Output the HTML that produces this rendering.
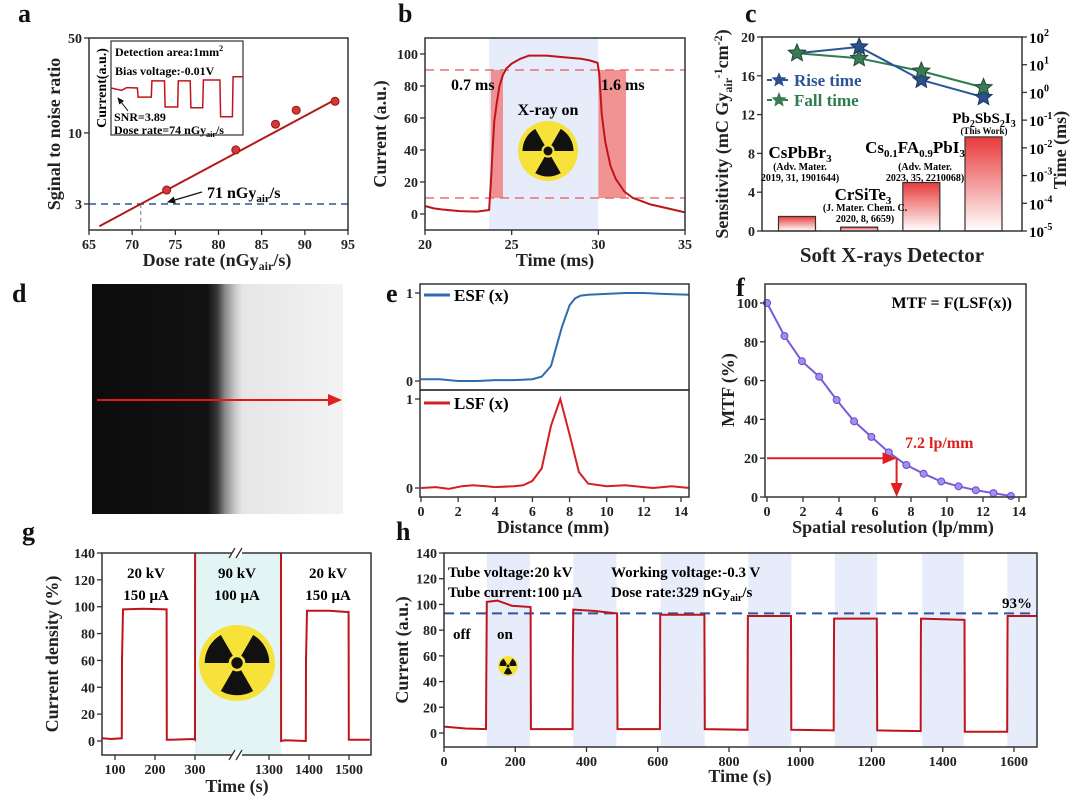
<!DOCTYPE html>
<html><head><meta charset="utf-8">
<style>
body{margin:0;background:#fff;}
svg{display:block;font-family:"Liberation Serif",serif;font-weight:bold;}
.tk{font-size:14px;fill:#222;}
.ttl{font-size:18px;fill:#222;}
.lt{font-size:26px;fill:#111;}
.fr{fill:none;stroke:#333;stroke-width:1.5;}
</style></head>
<body>
<svg id="fig" width="1080" height="808" viewBox="0 0 1080 808" xmlns="http://www.w3.org/2000/svg">
<defs>
<linearGradient id="barg" x1="0" y1="0" x2="0" y2="1"><stop offset="0" stop-color="#e83a3a"/><stop offset="1" stop-color="#fff"/></linearGradient>
<linearGradient id="edge" x1="0" y1="0" x2="1" y2="0">
<stop offset="0" stop-color="#0c0c0c"/><stop offset="0.46" stop-color="#121212"/><stop offset="0.5" stop-color="#3a3a3a"/><stop offset="0.53" stop-color="#8a8a8a"/><stop offset="0.57" stop-color="#c8c8c8"/><stop offset="0.6" stop-color="#e6e6e6"/><stop offset="1" stop-color="#f3f3f3"/></linearGradient>
<marker id="arr" markerWidth="8" markerHeight="8" refX="6" refY="3" orient="auto"><path d="M0,0 L7,3 L0,6 z" fill="#111"/></marker>
<marker id="arrR" markerWidth="8" markerHeight="8" refX="6" refY="3" orient="auto"><path d="M0,0 L7,3 L0,6 z" fill="#e02020"/></marker>
</defs>

<!-- panel d -->
<g>
<rect x="92" y="284" width="251" height="230" fill="url(#edge)"/>
<line x1="97" y1="400" x2="340" y2="400" stroke="#e01818" stroke-width="2" marker-end="url(#arrR)"/>
</g>

<g id="marks"></g>

<!-- panel letters -->
<text class="lt" x="18" y="22">a</text>
<text class="lt" x="398" y="22">b</text>
<text class="lt" x="745" y="22">c</text>
<text class="lt" x="12" y="302">d</text>
<text class="lt" x="386" y="302">e</text>
<text class="lt" x="736" y="296">f</text>
<text class="lt" x="22" y="540">g</text>
<text class="lt" x="396" y="540">h</text>

<!-- panel a static -->
<g>
<text x="115" y="56" font-size="12">Detection area:1mm<tspan font-size="8" dy="-5">2</tspan></text>
<text x="115" y="75" font-size="12">Bias voltage:-0.01V</text>
<text x="114" y="121" font-size="12">SNR=3.89</text>
<text x="114" y="134" font-size="12">Dose rate=74 nGy<tspan font-size="8" dy="3">air</tspan><tspan dy="-3">/s</tspan></text>
<text transform="translate(106,88) rotate(-90)" text-anchor="middle" font-size="14">Current(a.u.)</text>
<line x1="128" y1="111" x2="118" y2="98" stroke="#111" stroke-width="1" marker-end="url(#arr)"/>
<text x="207" y="198" font-size="16">71 nGy<tspan font-size="11" dy="4">air</tspan><tspan dy="-4">/s</tspan></text>
<line x1="202" y1="192" x2="168" y2="202" stroke="#111" stroke-width="1.2" marker-end="url(#arr)"/>
<text x="217" y="266" text-anchor="middle" class="ttl">Dose rate (nGy<tspan font-size="12" dy="4">air</tspan><tspan dy="-4">/s)</tspan></text>
<text transform="translate(60,134) rotate(-90)" text-anchor="middle" class="ttl">Sginal to noise ratio</text>
</g>

<!-- panel b static -->
<g>
<text x="555" y="266" text-anchor="middle" class="ttl">Time (ms)</text>
<text transform="translate(386,134) rotate(-90)" text-anchor="middle" class="ttl">Current (a.u.)</text>
</g>

<!-- panel c static -->
<g>
<text x="892" y="262" text-anchor="middle" font-size="21" fill="#222">Soft X-rays Detector</text>
<text transform="translate(728,134) rotate(-90)" text-anchor="middle" class="ttl" fill="#b3191e">Sensitivity (mC Gy<tspan font-size="12" dy="4">air</tspan><tspan font-size="12" dy="-10">-1</tspan><tspan dy="6">cm</tspan><tspan font-size="12" dy="-6">-2</tspan><tspan dy="6">)</tspan></text>
<text transform="translate(1066,150) rotate(-90)" text-anchor="middle" class="ttl">Time (ms)</text>
<text x="800" y="158" text-anchor="middle" font-size="17">CsPbBr<tspan font-size="11" dy="4">3</tspan></text>
<text x="800" y="170" text-anchor="middle" font-size="10">(Adv. Mater.</text>
<text x="800" y="181" text-anchor="middle" font-size="10">2019, 31, 1901644)</text>
<text x="863" y="200" text-anchor="middle" font-size="17">CrSiTe<tspan font-size="11" dy="4">3</tspan></text>
<text x="865" y="211" text-anchor="middle" font-size="10">(J. Mater. Chem. C.</text>
<text x="865" y="222" text-anchor="middle" font-size="10">2020, 8, 6659)</text>
<text x="915" y="153" text-anchor="middle" font-size="17">Cs<tspan font-size="11" dy="4">0.1</tspan><tspan dy="-4">FA</tspan><tspan font-size="11" dy="4">0.9</tspan><tspan dy="-4">PbI</tspan><tspan font-size="11" dy="4">3</tspan></text>
<text x="925" y="170" text-anchor="middle" font-size="10">(Adv. Mater.</text>
<text x="925" y="181" text-anchor="middle" font-size="10">2023, 35, 2210068)</text>
<text x="984" y="123" text-anchor="middle" font-size="15">Pb<tspan font-size="10" dy="4">2</tspan><tspan dy="-4">SbS</tspan><tspan font-size="10" dy="4">2</tspan><tspan dy="-4">I</tspan><tspan font-size="10" dy="4">3</tspan></text>
<text x="984" y="134" text-anchor="middle" font-size="9">(This Work)</text>
<text x="794" y="86" font-size="17" fill="#2b5597">Rise time</text>
<text x="794" y="106" font-size="17" fill="#2e7d4f">Fall time</text>
</g>

<!-- panel e static -->
<g>
<text x="553" y="533" text-anchor="middle" class="ttl">Distance (mm)</text>
<line x1="424" y1="295" x2="450" y2="295" stroke="#2c6db0" stroke-width="3"/>
<text x="454" y="301" font-size="17">ESF (x)</text>
<line x1="424" y1="403" x2="450" y2="403" stroke="#d42020" stroke-width="3"/>
<text x="454" y="409" font-size="17">LSF (x)</text>
</g>

<!-- panel f static -->
<g>
<text x="893" y="533" text-anchor="middle" class="ttl">Spatial resolution (lp/mm)</text>
<text transform="translate(734,390) rotate(-90)" text-anchor="middle" class="ttl">MTF (%)</text>
<text x="1012" y="308" text-anchor="end" font-size="16">MTF = F(LSF(x))</text>
<text x="905" y="448" font-size="16" fill="#e02020">7.2 lp/mm</text>
</g>

<!-- panel g static -->
<g>
<text x="237" y="792" text-anchor="middle" class="ttl">Time (s)</text>
<text transform="translate(58,654) rotate(-90)" text-anchor="middle" class="ttl">Current density (%)</text>
<text x="146" y="578" text-anchor="middle" font-size="15">20 kV</text>
<text x="146" y="600" text-anchor="middle" font-size="15">150 μA</text>
<text x="237" y="578" text-anchor="middle" font-size="15">90 kV</text>
<text x="237" y="600" text-anchor="middle" font-size="15">100 μA</text>
<text x="328" y="578" text-anchor="middle" font-size="15">20 kV</text>
<text x="328" y="600" text-anchor="middle" font-size="15">150 μA</text>
</g>

<!-- panel h static -->
<g>
<text x="740" y="782" text-anchor="middle" class="ttl">Time (s)</text>
<text transform="translate(408,650) rotate(-90)" text-anchor="middle" class="ttl">Current (a.u.)</text>
<text x="448" y="577" font-size="15">Tube voltage:20 kV</text>
<text x="448" y="597" font-size="15">Tube current:100 μA</text>
<text x="611" y="577" font-size="15">Working voltage:-0.3 V</text>
<text x="611" y="597" font-size="15">Dose rate:329 nGy<tspan font-size="10" dy="4">air</tspan><tspan dy="-4">/s</tspan></text>
<text x="453" y="639" font-size="15">off</text>
<text x="497" y="639" font-size="15">on</text>
<text x="1032" y="608" text-anchor="end" font-size="15">93%</text>
</g>
</svg>

<script>
// ---------- data ----------
// panel a
const aTickX=[65,70,75,80,85,90,95];
const aTickY=[3,10,50];
const aDose=[74,82,86.6,89,93.5];
const aSNR=[3.8,7.5,11.6,14.7,17.1];
const aFitX=[66.2,93.5];
const aFitLog=[0.477,0.0341];
const aLOD=[71,3];
const insetT=[0,0.8,1.2,2.0,2.05,3.05,3.1,4.05,4.1,5.05,5.1,6.0,6.05,6.95,7.0,8.25,8.3,9.2,9.25,10];
const insetI=[7.1,6.6,7.2,7.1,5.1,5.1,8.7,8.7,2.9,2.9,8.7,8.7,2.7,2.7,8.9,8.9,0.7,0.7,9.6,9.6];
// panel b
const bTickX=[20,25,30,35];
const bTickY=[0,20,40,60,80,100];
const bT=[20,20.5,21,22,23,23.7,23.8,23.9,24,24.15,24.3,24.5,24.7,25,25.5,26,27,28,29,29.5,29.95,30.05,30.2,30.4,30.7,31,31.5,32,32.5,33,34,35];
const bI=[5,3.5,2.8,1.8,1.5,2.5,20,40,58,70,80,87,91,94,97,99,99,98,97,96,94.5,88,62,45,30,22,14,10,8,6,3.5,1];
const bOn=[23.7,30.0];
const bRise=[23.8,24.5];
const bFall=[30.0,31.6];
const bLevels=[10,90];
// panel c
const cCats=['CsPbBr3','CrSiTe3','Cs0.1FA0.9PbI3','Pb2SbS2I3'];
const cSens=[1.5,0.4,5.0,9.7];
const cRise=[26,44,2.8,0.67];
const cFall=[26,17,5.9,1.5];
const cTickL=[0,4,8,12,16,20];
const cTickR=[-5,-4,-3,-2,-1,0,1,2];
// panel e
const eTickX=[0,2,4,6,8,10,12,14];
const esfX=[0,1,2,3,4,5,6,6.5,7,7.3,7.6,8,8.3,8.6,9,10,11,12,13,14.45];
const esfY=[0.02,0.02,0,0,0.01,0.01,0.02,0.05,0.17,0.4,0.62,0.86,0.94,0.97,0.98,0.99,1.0,1.0,0.99,0.98];
const lsfX=[0,0.8,1.5,2.2,2.8,3.5,4,5,5.5,6,6.5,7,7.5,8,8.5,9,10,11,12.5,13.5,14.45];
const lsfY=[0,0.01,-0.01,0.02,0.03,0.02,0.01,0.02,0.03,0.08,0.22,0.7,1.0,0.6,0.18,0.05,0.02,0.03,0,0.02,0];
// panel f
const fTickX=[0,2,4,6,8,10,12,14];
const fTickY=[0,20,40,60,80,100];
const fFreq=[0,0.97,1.94,2.9,3.87,4.84,5.8,6.77,7.74,8.7,9.68,10.64,11.6,12.58,13.55];
const fMTF=[100,83,70,62,50,39,31,23,16.5,12,8,5.5,3.5,2,0.5];
const fRes=[7.2,20];
// panel g
const gTickX=[100,200,300,1300,1400,1500];
const gTickY=[0,20,40,60,80,100,120,140];
const gT1=[68,90,117,117.5,120,170,229,229.5,240,298,300,300.2];
const gI1=[2,1.5,2,60,98,98.5,98,1,1,1.5,1,140];
const gT2=[1330,1330.2,1340,1392,1392.5,1395,1450,1499,1499.5,1520,1552];
const gI2=[140,0,0.5,0,60,97,97,96,1,1,1];
const gBand=[300,1330];
// panel h
const hTickX=[0,200,400,600,800,1000,1200,1400,1600];
const hTickY=[0,20,40,60,80,100,120,140];
const hT=[0,60,118,118.5,120,150,190,243,244,361,361.5,363,420,486,487,606,606.5,607,731,732,852,852.5,853,974,975,1094,1094.5,1095,1215,1216,1338,1338.5,1339,1461,1462,1581,1581.5,1582,1665];
const hI=[5,3.5,3,30,102,103,99,98,3,3,60,96,95,93,3,3,60,92,92,3,2.5,60,91,91,2.5,2,60,89,89,2,1.5,60,89,88,1,1,60,91,91];
const hOnStart=[120,363,608,854,1097,1342,1581];
const hOnEnd=[241,484,732,975,1216,1459,1665];
const hRetention=[93];

// ---------- helpers ----------
const NS='http://www.w3.org/2000/svg';
const svg=document.getElementById('marks');
function mk(tag,attrs,parent){const e=document.createElementNS(NS,tag);for(const k in attrs)e.setAttribute(k,attrs[k]);(parent||svg).appendChild(e);return e;}
function lin(d0,d1,r0,r1){return v=>r0+(v-d0)*(r1-r0)/(d1-d0);}
function logS(d0,d1,r0,r1){return v=>r0+(Math.log10(v)-Math.log10(d0))*(r1-r0)/(Math.log10(d1)-Math.log10(d0));}
function frame(x,y,w,h,name){const r=mk('rect',{x:x,y:y,width:w,height:h,class:'fr'});

}
function xTicks(vals,sc,y0,labels,name,cls){vals.forEach((v,i)=>{const l=mk('line',{x1:sc(v),x2:sc(v),y1:y0,y2:y0+5,stroke:'#333','stroke-width':1.3});


const t=mk('text',{x:sc(v),y:y0+19,'text-anchor':'middle',class:cls||'tk'});t.textContent=labels[i];

});}
function yTicks(vals,sc,x0,labels,name,color){vals.forEach((v,i)=>{const l=mk('line',{x1:x0-5,x2:x0,y1:sc(v),y2:sc(v),stroke:'#333','stroke-width':1.3});


const t=mk('text',{x:x0-7,y:sc(v)+5,'text-anchor':'end',class:'tk'});t.textContent=labels[i];if(color)t.setAttribute('fill',color);

});}
function pts(xs,ys,sx,sy){return xs.map((x,i)=>sx(x).toFixed(1)+','+sy(ys[i]).toFixed(1)).join(' ');}
function radiation(cx,cy,r,name){const g=mk('g',{});


mk('circle',{cx:cx,cy:cy,r:r,fill:'#f7e23a'},g);
const ri=r*0.22,ro=r*0.85;
for(let k=0;k<3;k++){
const base=(-30+k*120)*Math.PI/180; const s=base-Math.PI/6, e=base+Math.PI/6;
mk('path',{d:`M${cx+ri*Math.cos(s)},${cy+ri*Math.sin(s)} L${cx+ro*Math.cos(s)},${cy+ro*Math.sin(s)} A${ro},${ro} 0 0 1 ${cx+ro*Math.cos(e)},${cy+ro*Math.sin(e)} L${cx+ri*Math.cos(e)},${cy+ri*Math.sin(e)} A${ri},${ri} 0 0 0 ${cx+ri*Math.cos(s)},${cy+ri*Math.sin(s)} Z`,fill:'#111'},g);}
mk('circle',{cx:cx,cy:cy,r:r*0.15,fill:'#111'},g);}
function star(cx,cy,r){let d='';for(let i=0;i<10;i++){const a=-Math.PI/2+i*Math.PI/5,rr=i%2?r*0.45:r;d+=(i?'L':'M')+(cx+rr*Math.cos(a)).toFixed(1)+','+(cy+rr*Math.sin(a)).toFixed(1);}return d+'Z';}

// ---------- panel a ----------
(function(){
const sx=lin(65,95,89,348), sy=logS(1.93,50,230,38);
const th=mk('line',{x1:89,x2:348,y1:sy(aLOD[1]),y2:sy(aLOD[1]),stroke:'#2f5597','stroke-width':1.5,'stroke-dasharray':'7,5'});


const dl=mk('line',{x1:sx(aLOD[0]),x2:sx(aLOD[0]),y1:sy(aLOD[1]),y2:230,stroke:'#777','stroke-width':1,'stroke-dasharray':'4,3'});


const fy=x=>Math.pow(10,aFitLog[0]+aFitLog[1]*(x-aLOD[0]));
const fit=mk('line',{x1:sx(aFitX[0]),y1:sy(fy(aFitX[0])),x2:sx(aFitX[1]),y2:sy(fy(aFitX[1])),stroke:'#b01a1a','stroke-width':2});


aDose.forEach((d,i)=>{const c=mk('circle',{cx:sx(d),cy:sy(aSNR[i]),r:4,fill:'#d23a3a',stroke:'#9a1010'});

});
frame(89,38,259,192,'a-plot-frame');
xTicks(aTickX,sx,230,aTickX.map(String),'a-x');
yTicks(aTickY,sy,89,aTickY.map(String),'a-y');
const box=mk('rect',{x:111,y:41,width:132,height:94,fill:'#fff',stroke:'#333','stroke-width':1.2});


const ix=lin(0,10,111,243), iy=lin(0,10,120,75);
const tr=mk('polyline',{points:pts(insetT,insetI,ix,iy),fill:'none',stroke:'#c0141c','stroke-width':1.5});


})();

// ---------- panel b ----------
(function(){
const sx=lin(20,35,425,685), sy=lin(0,100,214,54);
const on=mk('rect',{x:sx(bOn[0]),y:38,width:sx(bOn[1])-sx(bOn[0]),height:192,fill:'#e6ecf9'});


[bRise,bFall].forEach((r,i)=>{const e=mk('rect',{x:sx(r[0]),y:sy(bLevels[1]),width:sx(r[1])-sx(r[0]),height:sy(bLevels[0])-sy(bLevels[1]),fill:'#f08080',opacity:0.85});

});
bLevels.forEach(v=>{const l=mk('line',{x1:425,x2:685,y1:sy(v),y2:sy(v),stroke:'#e87070','stroke-width':1.5,'stroke-dasharray':'9,6'});

});
const tr=mk('polyline',{points:pts(bT,bI,sx,sy),fill:'none',stroke:'#c0141c','stroke-width':2});


frame(425,38,260,192,'b-plot-frame');
xTicks(bTickX,sx,230,bTickX.map(String),'b-x');
yTicks(bTickY,sy,425,bTickY.map(String),'b-y');
const t1=mk('text',{x:451,y:90,'font-size':16});t1.textContent='0.7 ms';


const t2=mk('text',{x:601,y:90,'font-size':16});t2.textContent='1.6 ms';


const t3=mk('text',{x:548,y:115,'font-size':16,'text-anchor':'middle'});t3.textContent='X-ray on';


radiation(548,151,30,'b-radiation-icon');
})();

// ---------- panel c ----------
(function(){
const sx=lin(0,3,797,983.5), sy=lin(0,20,231,37), st=v=>231-(Math.log10(v)+5)*(194/7);
cSens.forEach((v,i)=>{const b=mk('rect',{x:sx(i)-18.5,y:sy(v),width:37,height:231-sy(v),fill:'url(#barg)',stroke:'#333','stroke-width':1.2});

});
const idx=cCats.map((c,i)=>i);
const fl=mk('polyline',{points:pts(idx,cFall,sx,st),fill:'none',stroke:'#2e7d4f','stroke-width':2});


const rl=mk('polyline',{points:pts(idx,cRise,sx,st),fill:'none',stroke:'#2b5597','stroke-width':2});


idx.forEach(i=>{const a=mk('path',{d:star(sx(i),st(cRise[i]),9),fill:'#2b4f8f',stroke:'#1c3566'});


const b=mk('path',{d:star(sx(i),st(cFall[i]),9),fill:'#3a7a55',stroke:'#1f4d33'});

});
frame(762,37,260,194,'c-plot-frame');
yTicks(cTickL,sy,762,cTickL.map(String),'c-y-left','#b3191e');
cTickR.forEach(k=>{const y=st(Math.pow(10,k));
const l=mk('line',{x1:1022,x2:1027,y1:y,y2:y,stroke:'#333','stroke-width':1.3});


const t=mk('text',{x:1029,y:y+6,'font-size':15});t.innerHTML='10<tspan font-size="10" dy="-7">'+k+'</tspan>';

});
[['#2b5597',80],['#2e7d4f',100]].forEach(([c,y],i)=>{
const l=mk('line',{x1:767,x2:791,y1:y,y2:y,stroke:c,'stroke-width':2,'stroke-dasharray':'5,3'});


const s=mk('path',{d:star(779,y,8),fill:i?'#3a7a55':'#2b4f8f'});

});
})();

// ---------- panel e ----------
(function(){
const sx=lin(0,14,421,681), sE=lin(0,1,381,293), sL=lin(0,1,488,399);
const a=mk('polyline',{points:pts(esfX,esfY,sx,sE),fill:'none',stroke:'#2c6db0','stroke-width':2});


const b=mk('polyline',{points:pts(lsfX,lsfY,sx,sL),fill:'none',stroke:'#d42020','stroke-width':2});


frame(420,284,269,106,'esf-frame');
frame(420,390,269,107,'lsf-frame');
xTicks(eTickX,sx,497,eTickX.map(String),'e-x');
[[sE,'esf-y'],[sL,'lsf-y']].forEach(([s,n])=>yTicks([0,1],s,420,['0','1'],n));
})();

// ---------- panel f ----------
(function(){
const sx=lin(0,14,767,1019), sy=lin(0,100,497,303);
const c=mk('polyline',{points:pts(fFreq,fMTF,sx,sy),fill:'none',stroke:'#7a5cd6','stroke-width':2});


fFreq.forEach((f,i)=>{const p=mk('circle',{cx:sx(f),cy:sy(fMTF[i]),r:3.5,fill:'#a58cf0',stroke:'#6a4cc8'});

});
const h=mk('line',{x1:767,x2:sx(fRes[0])-2,y1:sy(fRes[1]),y2:sy(fRes[1]),stroke:'#e02020','stroke-width':2,'marker-end':'url(#arrR)'});


const v=mk('line',{x1:sx(fRes[0]),x2:sx(fRes[0]),y1:sy(fRes[1]),y2:495,stroke:'#e02020','stroke-width':2,'marker-end':'url(#arrR)'});


frame(765,284,261,213,'f-plot-frame');
xTicks(fTickX,sx,497,fTickX.map(String),'f-x');
yTicks(fTickY,sy,765,fTickY.map(String),'f-y');
})();

// ---------- panel g ----------
(function(){
const s1=lin(100,200,115,155), s2=lin(1300,1400,269,309), sy=lin(0,140,741,553);
const band=mk('rect',{x:s1(gBand[0]),y:553,width:s2(gBand[1])-s1(gBand[0]),height:202,fill:'#e3f4f4'});


const a=mk('polyline',{points:pts(gT1,gI1,s1,sy),fill:'none',stroke:'#c0141c','stroke-width':2});


const b=mk('polyline',{points:pts(gT2,gI2,s2,sy),fill:'none',stroke:'#c0141c','stroke-width':2});


frame(102,553,269,202,'g-plot-frame');
[553,755].forEach(y=>{const r=mk('rect',{x:232,y:y-5,width:10,height:10,fill:'#fff'});


const p=mk('path',{d:`M229,${y+5} L235,${y-5} M236,${y+5} L242,${y-5}`,stroke:'#333','stroke-width':1.3});

});
const sx=v=>v<800?s1(v):s2(v);
xTicks(gTickX,sx,755,gTickX.map(String),'g-x');
yTicks(gTickY,sy,102,gTickY.map(String),'g-y');
radiation(237,663,38,'g-radiation-icon');
})();

// ---------- panel h ----------
(function(){
const sx=lin(0,1600,444,1014), sy=lin(0,140,733,553);
hOnStart.forEach((s,i)=>{const r=mk('rect',{x:sx(s),y:553,width:sx(hOnEnd[i])-sx(s),height:194,fill:'#e6ecf9'});

});
const d=mk('line',{x1:444,x2:1037,y1:sy(hRetention[0]),y2:sy(hRetention[0]),stroke:'#2f5597','stroke-width':2,'stroke-dasharray':'10,6'});


const t=mk('polyline',{points:pts(hT,hI,sx,sy),fill:'none',stroke:'#c0141c','stroke-width':2});


frame(444,553,593,194,'h-plot-frame');
xTicks(hTickX,sx,747,hTickX.map(String),'h-x');
yTicks(hTickY,sy,444,hTickY.map(String),'h-y');
radiation(508,666,10,'h-radiation-icon');
})();
</script>
</body></html>
